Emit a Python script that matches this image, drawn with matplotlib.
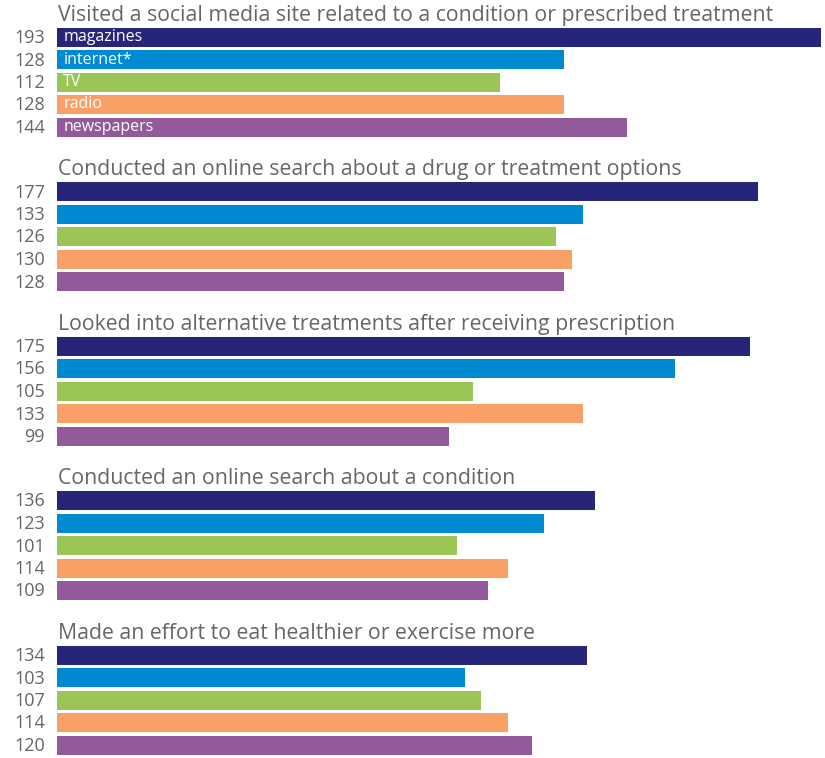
import matplotlib
matplotlib.use("Agg")
import matplotlib.pyplot as plt

titles = [
    "Visited a social media site related to a condition or prescribed treatment",
    "Conducted an online search about a drug or treatment options",
    "Looked into alternative treatments after receiving prescription",
    "Conducted an online search about a condition",
    "Made an effort to eat healthier or exercise more",
]
media = ["magazines", "internet*", "TV", "radio", "newspapers"]
values = [
    [193, 128, 112, 128, 144],
    [177, 133, 126, 130, 128],
    [175, 156, 105, 133, 99],
    [136, 123, 101, 114, 109],
    [134, 103, 107, 114, 120],
]
colors = ["#27257A", "#008AD2", "#9BC554", "#F9A066", "#925A9A"]

W, H = 825, 758
fig = plt.figure(figsize=(W / 100, H / 100), dpi=100)
x0 = 57
ax = fig.add_axes([x0 / W, 0, 1 - x0 / W, 1])
ax.set_xlim(0, 193 * (W - x0) / (821 - x0))
ax.set_ylim(H, 0)
ax.axis("off")

gray = "#666666"
font = "Open Sans"
first = 37
group_pitch = 154.5
bar_pitch = 22.5
bar_h = 19

for g, (title, vals) in enumerate(zip(titles, values)):
    base = first + g * group_pitch
    ys = [base + i * bar_pitch for i in range(len(vals))]
    ax.barh(ys, vals, height=bar_h, color=colors, edgecolor="none")
    ax.text(0.3, base - 21.5, title, fontsize=15.3, color=gray, family=font,
            va="center", ha="left")
    for y, v in zip(ys, vals):
        ax.text(-3.0, y + 1, str(v), fontsize=13, color=gray, family=font,
                va="center", ha="right")
    if g == 0:
        for y, m in zip(ys, media):
            ax.text(1.6, y, m, fontsize=11.5, color="white", family=font,
                    va="center", ha="left")

fig.savefig("out.png", dpi=100)
